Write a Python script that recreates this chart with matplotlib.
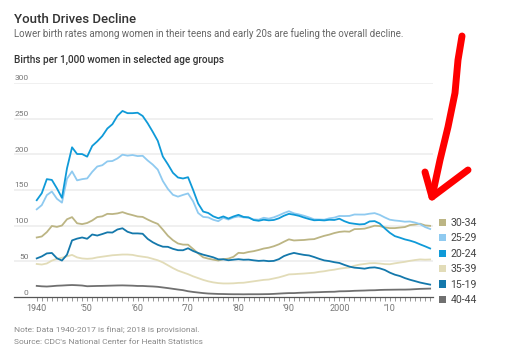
# Youth Drives Decline -- births per 1,000 women by age group
import numpy as np
import matplotlib.pyplot as plt
from matplotlib.patches import Patch
from matplotlib.lines import Line2D

plt.rcParams['font.family'] = ['Roboto', 'DejaVu Sans']

years = np.arange(1940, 2019)

age_20_24 = [135.6, 145.4, 165.1, 164.0, 152.2, 138.9, 180.3, 209.7, 200.3, 200.2,
             196.6, 211.6, 218.0, 225.5, 236.0, 242.0, 253.7, 260.6, 257.5, 257.5,
             258.1, 253.6, 243.3, 231.4, 218.7, 196.8, 185.9, 174.0, 167.4, 166.0,
             167.8, 150.1, 131.0, 119.7, 117.7, 113.0, 110.3, 112.9, 109.9, 112.8,
             115.1, 112.2, 111.6, 107.8, 106.8, 108.3, 107.4, 107.9, 110.2, 113.8,
             116.5, 115.3, 113.7, 111.3, 109.2, 107.5, 107.8, 107.3, 108.2, 107.9,
             109.7, 106.2, 103.6, 102.6, 101.7, 102.2, 105.9, 106.3, 103.0, 96.2,
             90.0, 85.3, 83.1, 80.7, 79.0, 76.8, 73.8, 71.0, 68.0]
age_25_29 = [122.8, 128.7, 142.7, 147.8, 137.6, 132.2, 165.6, 176.0, 163.4, 165.1,
             166.1, 175.3, 182.8, 184.6, 190.0, 190.5, 194.1, 199.4, 198.0, 198.9,
             197.4, 197.8, 191.2, 185.5, 178.4, 162.5, 151.4, 143.2, 140.6, 143.0,
             145.1, 134.1, 117.7, 112.2, 111.5, 108.2, 106.2, 111.0, 108.5, 111.4,
             112.9, 111.5, 111.0, 108.7, 108.3, 111.0, 109.8, 111.6, 114.4, 117.6,
             120.2, 117.2, 115.7, 113.8, 111.5, 108.8, 108.6, 108.3, 110.2, 111.2,
             113.5, 113.4, 113.6, 115.6, 115.5, 115.5, 116.7, 117.5, 115.1, 111.5,
             108.3, 107.2, 106.5, 105.5, 105.8, 104.3, 102.1, 98.0, 95.3]
age_30_34 = [83.4, 84.8, 90.9, 99.5, 98.2, 100.2, 108.9, 111.9, 103.3, 102.1,
             103.7, 107.2, 112.0, 113.0, 116.5, 116.2, 117.1, 118.9, 116.5, 114.7,
             112.7, 112.2, 108.5, 105.2, 102.4, 94.4, 85.9, 79.6, 75.0, 73.4,
             73.3, 67.3, 61.1, 55.6, 53.8, 52.3, 51.1, 53.0, 53.8, 56.3,
             61.9, 61.4, 63.1, 64.2, 65.9, 67.9, 69.1, 71.1, 73.8, 77.4,
             80.8, 79.2, 79.6, 79.9, 80.7, 81.1, 83.5, 85.7, 87.4, 89.6,
             91.2, 91.9, 91.5, 95.1, 95.3, 95.8, 97.7, 99.9, 99.4, 97.5,
             96.5, 96.5, 97.3, 98.0, 100.8, 101.5, 102.7, 100.3, 99.7]
age_35_39 = [46.3, 45.5, 47.0, 51.0, 53.5, 55.0, 57.0, 59.0, 55.5, 54.0,
             53.5, 54.0, 55.5, 56.5, 57.5, 58.5, 59.0, 59.5, 59.5, 59.0,
             57.5, 56.5, 55.5, 53.5, 51.5, 48.5, 44.5, 40.5, 37.0, 34.5,
             32.0, 29.0, 26.5, 24.0, 22.0, 20.5, 19.5, 19.0, 19.0, 19.2,
             19.8, 20.0, 21.0, 22.0, 23.0, 24.0, 24.5, 26.0, 27.5, 29.5,
             31.7, 32.0, 32.5, 32.9, 33.5, 34.0, 35.3, 36.1, 37.4, 38.3,
             39.7, 40.6, 41.4, 43.8, 45.4, 46.3, 47.3, 47.5, 46.9, 46.1,
             45.9, 47.2, 48.3, 49.3, 50.7, 51.8, 52.7, 52.3, 52.6]
age_15_19 = [54.1, 56.9, 61.1, 61.7, 54.3, 51.1, 59.3, 79.3, 81.8, 83.4,
             81.6, 87.6, 86.1, 88.2, 90.6, 90.3, 94.6, 96.3, 91.4, 89.1,
             89.1, 88.6, 81.4, 76.7, 73.1, 70.5, 70.3, 67.5, 65.6, 65.5,
             68.3, 64.5, 61.7, 59.3, 57.5, 55.6, 52.8, 52.8, 51.5, 52.3,
             53.0, 52.2, 52.4, 51.4, 50.6, 51.0, 50.2, 50.6, 53.0, 57.3,
             59.9, 61.8, 60.3, 59.0, 58.2, 56.0, 53.5, 51.3, 50.3, 48.8,
             47.7, 45.0, 42.6, 41.1, 40.5, 39.7, 41.1, 41.5, 40.2, 37.9,
             34.2, 31.3, 29.4, 26.5, 24.2, 22.3, 20.3, 18.8, 17.4]
age_40_44 = [15.6, 15.0, 14.7, 15.2, 15.8, 16.1, 16.5, 16.8, 16.5, 16.1,
             15.1, 15.3, 15.5, 15.6, 15.8, 16.0, 16.2, 16.3, 16.1, 15.9,
             15.5, 15.5, 15.1, 14.8, 14.3, 13.4, 12.5, 11.5, 10.5, 9.6,
             8.1, 7.1, 6.3, 5.5, 4.9, 4.6, 4.3, 4.2, 4.0, 3.9,
             3.9, 3.8, 3.9, 3.9, 3.9, 4.0, 4.1, 4.4, 4.8, 5.2,
             5.5, 5.5, 5.9, 6.1, 6.4, 6.6, 6.8, 7.1, 7.3, 7.4,
             8.0, 8.1, 8.3, 8.7, 8.9, 9.1, 9.4, 9.5, 9.9, 10.1,
             10.2, 10.3, 10.4, 10.4, 10.6, 11.0, 11.4, 11.6, 11.8]

# legend order (top to bottom)
legend_labels = ['30-34', '25-29', '20-24', '35-39', '15-19', '40-44']
colors = {'30-34': '#bcb584', '25-29': '#8fcaf0', '20-24': '#0f9ad8',
          '35-39': '#e2dcb8', '15-19': '#1478ab', '40-44': '#707070'}
series = {'30-34': age_30_34, '25-29': age_25_29, '20-24': age_20_24,
          '35-39': age_35_39, '15-19': age_15_19, '40-44': age_40_44}
draw_order = ['40-44', '35-39', '30-34', '25-29', '15-19', '20-24']

y_ticks = [0, 50, 100, 150, 200, 250, 300]
x_ticks = [1940, 1950, 1960, 1970, 1980, 1990, 2000, 2010]
x_ticklabels = ['1940', '\u201950', '\u201960', '\u201970', '\u201980', '\u201990', '2000', '\u201910']

fig = plt.figure(figsize=(5.2, 3.57), dpi=100)
ax = fig.add_axes([0.027, 0.168, 0.806, 0.6])

for key in draw_order:
    ax.plot(years, series[key], color=colors[key], lw=1.3, solid_joinstyle='round')

ax.set_xlim(1935.5, 2018.6)
ax.set_ylim(0, 300)

for s in ['top', 'right', 'left']:
    ax.spines[s].set_visible(False)
ax.spines['bottom'].set_color('#555555')
ax.spines['bottom'].set_linewidth(0.9)

# gridlines + y labels sitting above them
for v in y_ticks[1:]:
    ax.axhline(v, color='#eeeeee', lw=1.2, zorder=0)
for v in y_ticks:
    ax.text(0.035, v + 2, str(v), transform=ax.get_yaxis_transform(),
            ha='right', va='bottom', fontsize=6, color='#777777')
ax.set_yticks([])

ax.set_xticks(x_ticks)
ax.set_xticklabels(x_ticklabels)
ax.set_xticks(years, minor=True)
ax.tick_params(axis='x', which='both', length=3, width=0.6, color='#888888',
               labelsize=6.5, labelcolor='#777777', pad=2)

# legend at right
handles = [Patch(facecolor=colors[k], edgecolor='none') for k in legend_labels]
fig.legend(handles, legend_labels, loc='upper left', bbox_to_anchor=(0.845, 0.39),
           frameon=False, fontsize=7.6, handlelength=0.65, handleheight=0.65,
           handletextpad=0.4, labelspacing=0.52, labelcolor='#444444',
           borderaxespad=0, borderpad=0)

fig.text(0.027, 0.944, 'Youth Drives Decline', fontsize=9.5, color='#333333',
         va='center', weight='medium')
fig.text(0.027, 0.905, 'Lower birth rates among women in their teens and early 20s are fueling the overall decline.',
         fontsize=7, color='#666666', va='center')
fig.text(0.027, 0.832, 'Births per 1,000 women in selected age groups', fontsize=7.2,
         color='#333333', va='center', weight='medium')
fig.text(0.027, 0.076, 'Note: Data 1940-2017 is final; 2018 is provisional.',
         fontsize=6, color='#888888', va='center')
fig.text(0.027, 0.042, "Source: CDC's National Center for Health Statistics",
         fontsize=6, color='#888888', va='center')

# hand-drawn red arrow annotation (pixel coords of the figure)
shaft_x = [462, 458, 455, 448, 440, 432]
shaft_y = [36, 60, 93, 127, 160, 197]
head_x = [425, 432, 468]
head_y = [172, 197, 170]
W, H = 520, 357
for xs, ys in [(shaft_x, shaft_y), (head_x, head_y)]:
    fig.add_artist(Line2D([x / W for x in xs], [1 - y / H for y in ys],
                          color='#ff0000', lw=5, solid_capstyle='round',
                          solid_joinstyle='round', transform=fig.transFigure))

plt.savefig('out.png', dpi=100)
